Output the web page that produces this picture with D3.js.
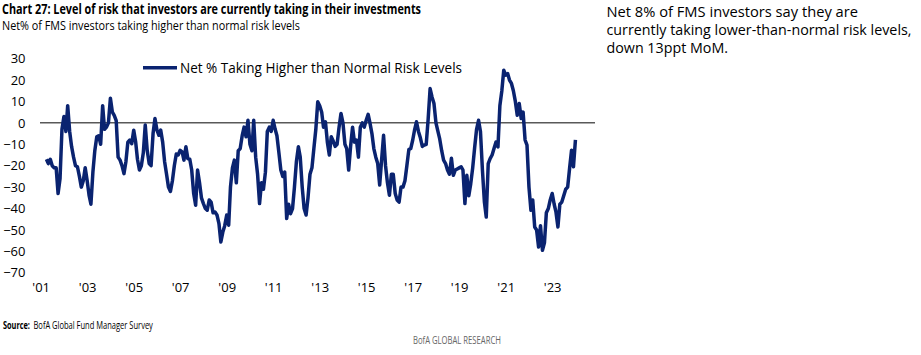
<!DOCTYPE html>
<html><head><meta charset="utf-8">
<script src="https://cdn.jsdelivr.net/npm/d3@7"></script>
<style>
html,body{margin:0;padding:0;background:#fff;}
svg{display:block;}
text{font-family:"Open Sans","Liberation Sans",sans-serif;}
</style></head>
<body>
<svg id="chart" width="921" height="355"></svg>
<script>
// ---- data ----
const startMonth = "2001-04";
const seriesName = "Net % Taking Higher than Normal Risk Levels";
const netRisk = [
 -17,-19,-17,-20,-21,-21,-33,-26,-3,3,
 -4,8,-4,-11,-16,-20,-20.5,-25,-30,-27,
 -21,-27,-34,-38,-23,-13,-6.5,-6,-10,8,
 -3,-2,0,11.5,5,3.5,1,-16,-17.4,-20,
 -23.7,-18,-9,-8,-9.7,-3.4,-9,-17,-22,-20,
 -14,-1,-12.8,-19,-20,-5,2,-3.4,-5.8,-3.4,
 -9,-18,-24,-30,-32,-27,-20,-14.5,-15,-12.8,
 -13.5,-17.4,-11.2,-16.7,-17,-22,-33,-38.5,-22,-28,
 -35,-37.7,-40,-40.8,-36,-37,-42,-41.6,-43,-47,
 -55.6,-51,-48,-43,-47.8,-30,-21,-17.4,-28,-13,
 -12,-6,-2,-6.5,1.2,-10,-13,1.2,-16,-24,
 -37.7,-28,-31,-23,-4,-2,-4,1.2,-3,-6,
 -14,-22,-25,-23,-44.7,-38,-42.4,-40,-30,-18,
 -11.2,-16,-30,-40,-43,-35,-24,-21,-12,-3,
 9.8,8,5,-2,0.5,-9,-15,-6.5,-8.5,-11,
 -10,-2,4.4,0,-10,-12,-22,-11,-2,-9,
 -8,-16,-2,0,-2,1.2,4,0,-5,-12,
 -16,-19,-29,-17,-5.8,-20,-28,-33.8,-24,-24,
 -33,-36,-37,-30,-30,-27,-20,-12.5,-12,-8,
 -3,0.5,-4,-7,-11,-10.4,-10,2,16,12,
 9,0,-4,-7.5,-13,-17.4,-19,-22,-24,-16.5,
 -24.5,-22,-21.5,-21,-20.5,-22,-37.7,-24.5,-34,-28.5,
 -21,-11.5,-3,1.2,-4,-22,-37,-44,-19,-16.7,
 -15,-12,-9,-11.2,8,15,24.6,22.3,23,20,
 18.4,15,10,3.6,9,2,5,-8,-10.4,-30,
 -40.8,-36,-48.6,-50,-58,-48,-59.5,-56,-42,-40,
 -36,-33,-38,-41.6,-48.6,-38,-37,-34,-31,-30,
 -21.3,-12.8,-20.5,-8
];
const yTicks = [30,20,10,0,-10,-20,-30,-40,-50,-60,-70];
const xTickYears = [2001,2003,2005,2007,2009,2011,2013,2015,2017,2019,2021,2023];

const titleText = "Chart 27: Level of risk that investors are currently taking in their investments";
const subtitleText = "Net% of FMS investors taking higher than normal risk levels";
const noteLines = ["Net 8% of FMS investors say they are",
                   "currently taking lower-than-normal risk levels,",
                   "down 13ppt MoM."];
const sourceLabel = "Source:";
const sourceText = "BofA Global Fund Manager Survey";
const brandText = "BofA GLOBAL RESEARCH";

// ---- build ----
const parseM = d3.timeParse("%Y-%m");
const t0 = parseM(startMonth);
const data = netRisk.map((v,i)=>({date:d3.timeMonth.offset(t0,i), value:v}));

const svg = d3.select("#chart");
const navy = "#0a2370";

const x = d3.scaleTime()
  .domain([new Date(2001,0,1), new Date(2023,0,1)])
  .range([40.7, 552.2]);
const plotLeft = 40, plotRight = 595;

const y = d3.scaleLinear().domain([-70,30]).range([272.8,58.6]);

// helper: horizontally squeeze a text to a target width via transform
function fitText(sel, x0, y0, w){
  sel.attr("x",0).attr("y",0);
  const nat = sel.node().getComputedTextLength();
  sel.attr("transform",`translate(${x0},${y0}) scale(${w/nat},1)`);
}

// titles
svg.append("text").attr("x",2).attr("y",14)
  .attr("font-family","Roboto, sans-serif").attr("font-weight","bold")
  .attr("font-size",14).attr("fill","#000")
  .attr("textLength",419).attr("lengthAdjust","spacingAndGlyphs")
  .text(titleText);
svg.append("text").attr("x",2).attr("y",30)
  .attr("font-family","Roboto, sans-serif")
  .attr("font-size",12.5).attr("fill","#000")
  .attr("textLength",298).attr("lengthAdjust","spacingAndGlyphs")
  .text(subtitleText);

// note on right
const noteW = [251.5, 305, 121.5];
noteLines.forEach((t,i)=>{
  svg.append("text").attr("x",606.5).attr("y",16.7+i*18.3)
    .attr("font-size",14.5).attr("fill","#000")
    .attr("textLength",noteW[i]).attr("lengthAdjust","spacingAndGlyphs")
    .text(t);
});

// y axis labels
const yAxis = d3.axisLeft(y).tickValues(yTicks).tickSize(0).tickPadding(0);
const gy = svg.append("g").attr("transform","translate(25.5,0)").call(yAxis);
gy.select(".domain").remove();
gy.selectAll("text").attr("font-family","'Open Sans', sans-serif")
  .attr("font-size",13).attr("fill","#000");

// x axis labels
const xAxis = d3.axisBottom(x)
  .tickValues(xTickYears.map(yr=>new Date(yr,0,1)))
  .tickFormat(d=>"'"+d3.timeFormat("%y")(d))
  .tickSize(0).tickPadding(0);
const gx = svg.append("g").attr("transform","translate(0,283)").call(xAxis);
gx.select(".domain").remove();
gx.selectAll("text").attr("font-family","'Open Sans', sans-serif")
  .attr("font-size",13).attr("fill","#000");

// zero line
svg.append("line")
  .attr("x1",plotLeft).attr("x2",plotRight)
  .attr("y1",y(0)).attr("y2",y(0))
  .attr("stroke","#595959").attr("stroke-width",1.5);

// series line
const line = d3.line().x(d=>x(d.date)).y(d=>y(d.value));
svg.append("path").datum(data)
  .attr("d",line).attr("fill","none")
  .attr("stroke",navy).attr("stroke-width",3.5)
  .attr("stroke-linejoin","round");

// legend
svg.append("line").attr("x1",143).attr("x2",177).attr("y1",67.7).attr("y2",67.7)
  .attr("stroke",navy).attr("stroke-width",3.5);
svg.append("text").attr("x",180).attr("y",72.5)
  .attr("font-size",14).attr("fill","#000")
  .attr("textLength",282).attr("lengthAdjust","spacingAndGlyphs")
  .text(seriesName);

// source
const s1 = svg.append("text")
  .attr("font-family","Roboto, sans-serif").attr("font-size",10.5)
  .attr("font-weight","bold").attr("fill","#000")
  .text(sourceLabel);
fitText(s1, 3, 329, 27);
const s2 = svg.append("text")
  .attr("font-family","Roboto, sans-serif").attr("font-size",10.5).attr("fill","#000")
  .text(sourceText);
fitText(s2, 33.5, 329, 119.5);

const s3 = svg.append("text")
  .attr("font-family","Roboto, sans-serif").attr("font-size",10.5).attr("fill","#666")
  .text(brandText);
fitText(s3, 413, 343.5, 88);
</script>
</body></html>
